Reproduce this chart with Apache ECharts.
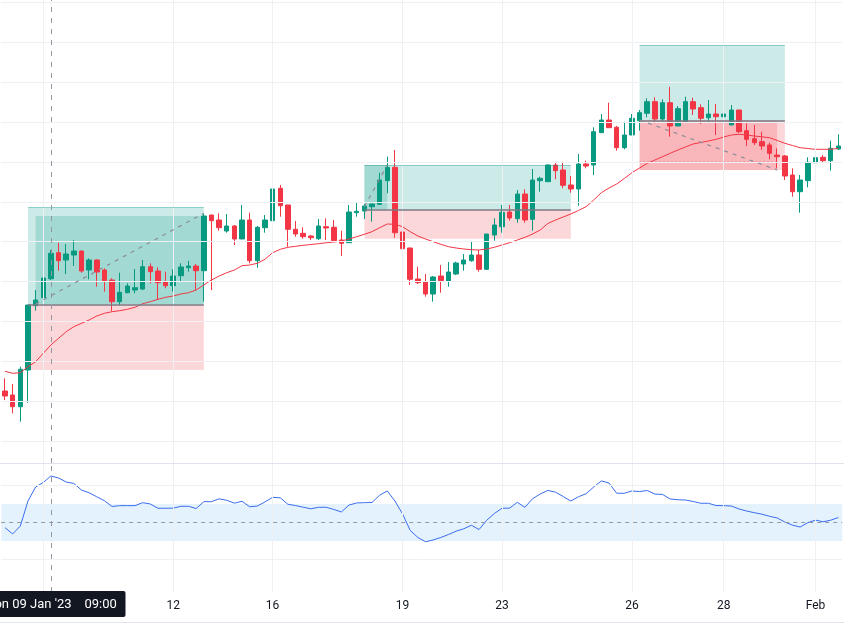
<!DOCTYPE html>
<html>
<head>
<meta charset="utf-8">
<title>Candles with MA and oscillator</title>
<script src="https://cdn.jsdelivr.net/npm/echarts/dist/echarts.min.js"></script>
<style>
  html, body { margin: 0; padding: 0; background: #fff; }
  #main { width: 844px; height: 623px; }
</style>
</head>
<body>
<div id="main"></div>
<script>
// candles: [open, close, low, high] (price in chart points)
const candles = [
  [72, 67, 63, 84.7], [68, 56.3, 49.7, 79], [56.3, 93.7, 41.3, 96.3], [93, 158, 60.3, 158], [157.3, 163, 152.3, 173],
  [165.3, 185, 163, 191.3], [184.3, 209.7, 183, 213], [210.3, 202.3, 192.3, 220.3], [203, 209, 189, 219], [208, 212, 197, 223],
  [212, 192, 190.3, 212.3], [193, 203, 183.7, 204.7], [203, 191, 176.3, 203.7], [193, 182.3, 171.3, 194.7], [183, 161.3, 152, 184.7],
  [161.3, 170.7, 158, 190.3], [170.3, 177, 169.7, 179.7], [173, 175.3, 169.7, 194], [174, 196.3, 173, 203], [196.3, 191.3, 179.7, 199.7],
  [192, 180.3, 163, 195.7], [181.3, 177.3, 174.7, 191.3], [177.3, 187, 171.3, 193.7], [187.3, 196, 181.3, 199.7], [195.3, 197, 191.3, 202.3],
  [197, 192.3, 173, 199], [192.3, 247, 161.3, 249.7], [248, 242.3, 173, 248], [243, 235.3, 232.3, 249.7], [232, 237, 230.3, 249],
  [237, 224, 218, 238], [224, 243, 224, 258], [243, 202.3, 199.7, 250.3], [202.3, 235.7, 195.3, 237], [235.3, 243, 230.3, 248],
  [242.3, 274, 233, 276.3], [274.7, 257.3, 246.3, 278], [258, 233.7, 216.3, 258], [233.7, 229, 226.3, 242], [229.7, 226.3, 224.3, 235.7],
  [227, 225.3, 223, 228], [224.3, 237, 223, 244], [236.3, 235, 223, 244.7], [235.7, 222.3, 222.3, 243], [223, 219.7, 207, 232.3],
  [220.3, 251, 220.3, 258], [250.3, 251.7, 246.3, 261], [252, 257, 244, 259], [256.3, 259, 241.3, 259], [258.7, 283, 258, 290.3],
  [282.3, 295.7, 269.7, 306.3], [295.7, 230.3, 225.3, 313], [231, 214.3, 211.3, 233.7], [215, 183.7, 178, 215.3], [184, 180.3, 179, 196.3],
  [181, 169, 166.3, 189], [169, 186, 161.3, 187], [187, 182.3, 170.3, 198], [182, 191, 176.3, 201], [189, 200, 188, 201.3],
  [199, 203, 192.3, 209], [202.3, 208, 201.3, 221.3], [208, 193.7, 191.3, 213], [193.7, 229, 193, 229], [228, 238, 222.3, 244.7],
  [236.3, 250.7, 230.3, 258], [251, 245, 242.3, 258], [244.3, 269, 240.3, 273], [269, 243, 240.3, 273.7], [243.7, 283, 232.3, 294],
  [282.3, 284.7, 271.3, 286.3], [281.3, 298, 281.3, 298.7], [298, 292.3, 283.7, 301.3], [293, 277.7, 274.7, 301.3], [278, 274, 270.3, 287],
  [274, 299, 257.3, 309], [299, 297, 294.7, 302.3], [298, 331.3, 288, 335.7], [330.3, 343, 330.3, 349], [343, 335.3, 335.3, 360.3],
  [335.7, 315.3, 312.3, 337], [315.3, 328, 313.7, 341.3], [328, 344.7, 328, 349], [342.3, 350.3, 332.3, 353], [349.7, 361.3, 345.7, 364.7],
  [361.3, 344, 339.7, 365.7], [344, 360.3, 340.3, 363.7], [360.3, 337, 326.3, 376.3], [337, 354.3, 337, 357], [341.3, 361.3, 340.3, 366.3],
  [361.3, 354, 348, 365.3], [355.3, 344.7, 339, 358.7], [345.3, 349, 341.3, 363], [349, 346.3, 328, 359], [346.3, 349, 342.3, 352.3],
  [338, 353, 338, 358], [353, 331.3, 329.7, 353], [332.3, 323.7, 317, 339.7], [324.3, 320.3, 318, 338], [321.3, 317, 313, 331.3],
  [318, 309.7, 303.7, 320.3], [308, 306.3, 294.7, 314.7], [307, 287, 283, 308], [288, 271.3, 266.3, 294.7], [271.3, 283, 250.3, 288],
  [282.3, 300.7, 275.7, 305.7], [300.3, 305.3, 300.3, 312], [305.7, 302.3, 300.3, 308], [302.3, 314.7, 292.3, 322.3], [314, 317, 313, 328.7]
];

const ma = [
  91.7, 89.7, 90.3, 96.3, 101.3, 109.7, 118, 124.7, 131.3, 136.3,
  139.7, 143, 147, 149.7, 151.3, 152.3, 153.7, 155.7, 159.3, 161.3,
  163.7, 165.7, 167, 169, 170.3, 173, 178, 183, 187, 190.3,
  193, 197.3, 198, 199.7, 203.7, 210.3, 213.7, 215.7, 216.7, 217.7,
  218.5, 219.3, 220.2, 221, 222, 224, 226.3, 228.7, 231.3, 235.3,
  239, 238.7, 236.3, 231.3, 227, 224, 221.3, 218.7, 216.3, 215,
  214, 213.3, 213, 214, 215.7, 218, 220.3, 223, 225.7, 229,
  233, 239.5, 243, 246, 249, 252.5, 256.3, 263, 270.3, 275,
  279, 284.5, 290.3, 295, 299.7, 303, 306.3, 309.7, 313, 316,
  319, 320.5, 322, 323.7, 326, 328, 328.7, 328, 327, 326.2,
  325.3, 322.5, 319.7, 317.5, 315.3, 314.5, 313.7, 313.7, 313.7, 314.7
];

const osc = [
  44.4, 37.6, 46.2, 73.2, 88.4, 93.2, 100.3, 98.1, 93.8, 92.2,
  85.1, 82.1, 77.8, 73.5, 67.3, 68.2, 68.2, 68.2, 71.4, 70,
  65.4, 65.4, 65.5, 67.5, 67.5, 65.1, 72.5, 72.5, 75.6, 74,
  70.9, 72.9, 67, 67.8, 72.2, 77.2, 76.7, 69.7, 68.3, 66.5,
  64.8, 66.4, 66.5, 64.1, 61.4, 68.9, 71.1, 71.4, 71.6, 79.5,
  84.1, 73.2, 59.2, 41.4, 33.8, 29.2, 31.1, 33.8, 37, 40.6,
  43.2, 47, 42.4, 52.4, 59.7, 65.4, 65.5, 71.8, 66.4, 75.7,
  80.8, 84.7, 82.8, 78.1, 73.2, 77.8, 81.1, 88.4, 94.9, 92.7,
  81.6, 81.6, 84.1, 83.4, 84.6, 80.7, 80.3, 75.4, 74.6, 74.3,
  72.7, 70.8, 70.8, 68.3, 68.2, 67.8, 64.6, 62.4, 60.6, 59,
  56.7, 54.9, 50.5, 47.1, 45.1, 49.8, 52.6, 50.8, 52.5, 55.4
];

// bar index -> date tick label
const tickLabels = { 5: "9", 22: "12", 35: "16", 52: "19", 65: "23", 82: "26", 94: "28", 106: "Feb" };
const priceLevels = [21.8, 61.7, 101.6, 141.5, 181.4, 221.3, 261.2, 301.1, 341, 380.9, 420.8, 460.7];
const oscLevels = [10, 90];
const crosshairBar = 6;

// long position drawings: bar range, prices, traveled path
const positions = [
  { from: 3, to: 26, entry: 158.7, target: 255.7, stop: 93, path: [[4, 159], [26, 249.7]], reached: [4, 26, 158.7, 247] },
  { from: 47, to: 74, entry: 253.7, target: 298, stop: 224.3, path: [[47, 256.3], [50, 298]], reached: [47, 50, 253.7, 298] },
  { from: 83, to: 102, entry: 342.7, target: 418, stop: 293, path: [[83, 343], [101, 293]], reached: [83, 101, 293, 342.7], loss: true, close: 301.7 }
];

const cats = candles.map((_, i) => String(i));
const tickIdx = Object.keys(tickLabels).map(Number);

const UP = "#089981";
const DOWN = "#f23645";
const GRID = "#eef0f3";
const TEAL = "rgba(0, 150, 136, 0.2)";
const PINK = "rgba(242, 54, 69, 0.2)";

const baseMark = {
  silent: true,
  symbol: ["none", "none"],
  label: { show: false },
  emphasis: { disabled: true },
  animation: false,
};

const areas = [];
const drawLines = [];
positions.forEach((p) => {
  areas.push([{ coord: [p.from, p.entry], itemStyle: { color: TEAL } }, { coord: [p.to, p.target] }]);
  areas.push([{ coord: [p.from, p.stop], itemStyle: { color: PINK } }, { coord: [p.to, p.entry] }]);
  const r = p.reached;
  areas.push([{ coord: [r[0], r[2]], itemStyle: { color: p.loss ? PINK : TEAL } }, { coord: [r[1], r[3]] }]);

  drawLines.push([
    { coord: [p.from, p.target], lineStyle: { color: "rgba(0, 150, 136, 0.35)", width: 1, type: "solid" } },
    { coord: [p.to, p.target] },
  ]);
  drawLines.push([
    { coord: [p.from, p.entry], lineStyle: { color: "#787b86", width: 1.5, type: "solid" } },
    { coord: [p.to, p.entry] },
  ]);
  drawLines.push([
    { coord: p.path[0], lineStyle: { color: "#8a8d96", width: 1.2, type: [4, 5] } },
    { coord: p.path[1] },
  ]);
  if (p.close !== undefined) {
    drawLines.push([
      { coord: [p.from, p.close], lineStyle: { color: "rgba(242, 54, 69, 0.5)", width: 1, type: [1, 3] } },
      { coord: [r[1], p.close] },
    ]);
  }
});

const crosshair = {
  ...baseMark,
  lineStyle: { color: "#9598a1", width: 1, type: [5, 6] },
  data: [{ xAxis: crosshairBar }],
};

const makeX = (gridIndex, withLabels) => ({
  type: "category",
  gridIndex: gridIndex,
  data: cats,
  boundaryGap: true,
  axisLine: { show: false },
  axisTick: { show: false },
  splitLine: { show: false },
  axisLabel: withLabels
    ? {
        interval: (idx) => tickLabels[idx] !== undefined,
        formatter: (v, idx) => tickLabels[idx] || "",
        color: "#131722",
        fontSize: 12,
        fontFamily: "Roboto",
        margin: 8,
      }
    : { show: false },
});

const chart = echarts.init(document.getElementById("main"), null, { renderer: "canvas" });

chart.setOption({
  animation: false,
  backgroundColor: "#ffffff",
  grid: [
    { left: 1.2, right: 1.8, top: 0, height: 463, outerBoundsMode: "none" },
    { left: 1.2, right: 1.8, top: 463, height: 129, outerBoundsMode: "none" },
  ],
  xAxis: [makeX(0, false), makeX(1, true)],
  yAxis: [
    { type: "value", gridIndex: 0, min: 0, max: 463, show: false },
    { type: "value", gridIndex: 1, min: -25.1, max: 114.3, show: false },
  ],
  series: [
    {
      name: "grid",
      type: "line",
      xAxisIndex: 0,
      yAxisIndex: 0,
      data: [],
      z: 0,
      markLine: {
        ...baseMark,
        lineStyle: { color: GRID, width: 1, type: "solid" },
        data: [...priceLevels.map((v) => ({ yAxis: v })), ...tickIdx.map((i) => ({ xAxis: i }))],
      },
    },
    {
      name: "positions",
      type: "line",
      xAxisIndex: 0,
      yAxisIndex: 0,
      data: [],
      z: 1,
      markArea: { silent: true, animation: false, emphasis: { disabled: true }, data: areas },
      markLine: { ...baseMark, data: drawLines },
    },
    {
      name: "price",
      type: "candlestick",
      xAxisIndex: 0,
      yAxisIndex: 0,
      data: candles,
      barWidth: 5,
      z: 2,
      itemStyle: {
        color: UP,
        color0: DOWN,
        borderColor: UP,
        borderColor0: DOWN,
        borderWidth: 1,
      },
      markLine: crosshair,
    },
    {
      name: "MA",
      type: "line",
      xAxisIndex: 0,
      yAxisIndex: 0,
      data: ma,
      showSymbol: false,
      symbol: "none",
      z: 3,
      lineStyle: { color: DOWN, width: 1 },
    },
    {
      name: "oscGrid",
      type: "line",
      xAxisIndex: 1,
      yAxisIndex: 1,
      data: [],
      z: 0,
      markArea: {
        silent: true,
        animation: false,
        itemStyle: { color: "rgba(33, 150, 243, 0.12)" },
        data: [[{ yAxis: 30 }, { yAxis: 70 }]],
      },
      markLine: {
        ...baseMark,
        lineStyle: { color: GRID, width: 1, type: "solid" },
        data: [...oscLevels.map((v) => ({ yAxis: v })), ...tickIdx.map((i) => ({ xAxis: i }))],
      },
    },
    {
      name: "osc",
      type: "line",
      xAxisIndex: 1,
      yAxisIndex: 1,
      data: osc,
      showSymbol: false,
      symbol: "none",
      z: 3,
      lineStyle: { color: "#3a6df0", width: 1 },
      markLine: {
        ...baseMark,
        data: [
          { yAxis: 50, lineStyle: { color: "#9598a1", width: 1, type: [4, 4] } },
          { xAxis: crosshairBar, lineStyle: { color: "#9598a1", width: 1, type: [5, 6] } },
        ],
      },
    },
  ],
  graphic: [
    { type: "line", z: 50, shape: { x1: 0, y1: 463.5, x2: 844, y2: 463.5 }, style: { stroke: "#e0e3eb", lineWidth: 1 } },
    { type: "line", z: 50, shape: { x1: 0, y1: 622.5, x2: 844, y2: 622.5 }, style: { stroke: "#e0e3eb", lineWidth: 1 } },
    { type: "rect", z: 100, shape: { x: -22, y: 591, width: 147.5, height: 26, r: 2 }, style: { fill: "#131722" } },
    {
      type: "text", z: 101, x: 71.6, y: 605,
      style: { text: "Mon 09 Jan '23", fill: "#ffffff", font: "13px Roboto", align: "right", verticalAlign: "middle" },
    },
    {
      type: "text", z: 101, x: 84.5, y: 605,
      style: { text: "09:00", fill: "#ffffff", font: "13px Roboto", align: "left", verticalAlign: "middle" },
    },
  ],
});
</script>
</body>
</html>
